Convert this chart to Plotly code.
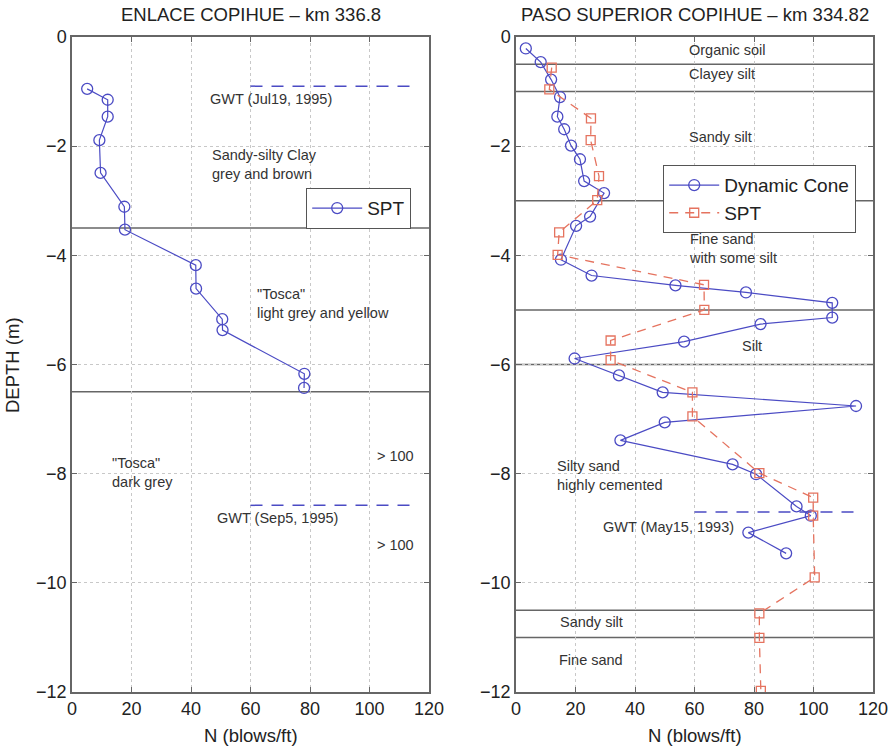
import plotly.graph_objects as go

# ---------------- data ----------------
# Left panel: ENLACE COPIHUE - SPT
left_spt_n = [5.1, 12.0, 12.0, 9.2, 9.6, 17.6, 17.8, 41.6, 41.7, 50.5, 50.6, 78.1, 78.0]
left_spt_depth = [-0.95, -1.15, -1.46, -1.89, -2.49, -3.11, -3.53, -4.18, -4.61, -5.17, -5.37, -6.17, -6.43]
left_layer_bounds = [-3.5, -6.5]
left_gwt_depths = [-0.9, -8.58]
gwt_x_range = [60, 116]

# Right panel: PASO SUPERIOR COPIHUE
cone_n = [3.3, 8.3, 11.8, 14.8, 13.9, 16.2, 18.5, 21.5, 22.9, 29.6, 24.9, 20.2, 15.1, 25.4,
          53.6, 77.3, 106.3, 106.3, 82.2, 56.5, 19.7, 34.6, 49.3, 114.3, 50.0, 35.1, 72.8,
          80.7, 94.3, 99.1, 78.1, 90.8]
cone_depth = [-0.21, -0.46, -0.78, -1.10, -1.46, -1.69, -1.99, -2.24, -2.64, -2.86, -3.29, -3.46,
              -4.08, -4.37, -4.55, -4.68, -4.87, -5.14, -5.26, -5.58, -5.89, -6.20, -6.51, -6.76,
              -7.06, -7.39, -7.83, -8.01, -8.60, -8.77, -9.08, -9.46]
right_spt_n = [12.0, 11.2, 25.2, 25.1, 27.9, 27.3, 14.5, 14.0, 63.2, 63.3, 31.8, 31.8, 59.3, 59.3,
               81.8, 99.9, 99.9, 100.4, 81.8, 81.8, 82.3]
right_spt_depth = [-0.56, -0.96, -1.49, -1.89, -2.55, -2.99, -3.58, -3.99, -4.54, -5.00, -5.56,
                   -5.92, -6.51, -6.95, -7.99, -8.44, -8.77, -9.90, -10.56, -11.01, -11.98]
right_layer_bounds = [-0.5, -1.0, -3.0, -5.0, -6.0, -10.5, -11.0]
right_gwt_depths = [-8.7]

# annotation labels: (text, x, y, anchor)
left_labels = [
    ("GWT (Jul19, 1995)", 67, -1.14, "center"),
    ("Sandy-silty Clay<br>grey and brown", 46.5, -2.33, "left"),
    ("\"Tosca\"<br>light grey and yellow", 61.5, -4.89, "left"),
    ("\"Tosca\"<br>dark grey", 12.8, -7.97, "left"),
    ("&gt; 100", 108.8, -7.67, "center"),
    ("GWT (Sep5, 1995)", 69, -8.81, "center"),
    ("&gt; 100", 108.8, -9.3, "center"),
]
right_labels = [
    ("Organic soil", 57.6, -0.24, "left"),
    ("Clayey silt", 57.6, -0.68, "left"),
    ("Sandy silt", 57.6, -1.83, "left"),
    ("Fine sand<br>with some silt", 57.6, -3.88, "left"),
    ("Silt", 79.2, -5.67, "center"),
    ("Silty sand<br>highly cemented", 13.1, -8.04, "left"),
    ("GWT (May15, 1993)", 51.2, -8.97, "center"),
    ("Sandy silt", 14.2, -10.71, "left"),
    ("Fine sand", 13.7, -11.42, "left"),
]
titles = ["ENLACE COPIHUE \u2013 km 336.8", "PASO SUPERIOR COPIHUE \u2013 km 334.82"]
x_ticks = [0, 20, 40, 60, 80, 100, 120]
y_ticks = [0, -2, -4, -6, -8, -10, -12]

# ---------------- style ----------------
BLUE = "#4b4bc4"
RED = "#e5735f"
GREY = "#666666"
FONT = "Liberation Sans, Arial, sans-serif"

fig = go.Figure()

fig.add_trace(go.Scatter(
    x=left_spt_n, y=left_spt_depth, mode="lines+markers", name="SPT",
    line=dict(color=BLUE, width=1.2),
    marker=dict(symbol="circle-open", size=11, color=BLUE, line=dict(width=1.3)),
    xaxis="x", yaxis="y", legend="legend"))

fig.add_trace(go.Scatter(
    x=cone_n, y=cone_depth, mode="lines+markers", name="Dynamic Cone",
    line=dict(color=BLUE, width=1.2),
    marker=dict(symbol="circle-open", size=11, color=BLUE, line=dict(width=1.3)),
    xaxis="x2", yaxis="y2", legend="legend2"))

fig.add_trace(go.Scatter(
    x=right_spt_n, y=right_spt_depth, mode="lines+markers", name="SPT",
    line=dict(color=RED, width=1.3, dash="9px,7px"),
    marker=dict(symbol="square-open", size=9, color=RED, line=dict(width=1.3)),
    xaxis="x2", yaxis="y2", legend="legend2"))

shapes = []
for xr, yr, bounds, gwts in [("x", "y", left_layer_bounds, left_gwt_depths),
                             ("x2", "y2", right_layer_bounds, right_gwt_depths)]:
    for b in bounds:
        shapes.append(dict(type="line", xref=f"{xr} domain", yref=yr, x0=0, x1=1, y0=b, y1=b,
                           line=dict(color=GREY, width=1.5), layer="below"))
    for g in gwts:
        shapes.append(dict(type="line", xref=xr, yref=yr, x0=gwt_x_range[0], x1=gwt_x_range[1],
                           y0=g, y1=g, line=dict(color=BLUE, width=1.5, dash="12px,9px")))

annotations = []
for labels, xr, yr in [(left_labels, "x", "y"), (right_labels, "x2", "y2")]:
    for t, x, y, anc in labels:
        annotations.append(dict(text=t, x=x, y=y, xref=xr, yref=yr, xanchor=anc,
                                yanchor="middle", showarrow=False, align="left",
                                font=dict(size=14.5, color="#333333", family=FONT)))

x_domains = [[72 / 892, 429 / 892], [516 / 892, 873 / 892]]
y_domain = [1 - 692 / 748, 1 - 37 / 748]

for i, t in enumerate(titles):
    annotations.append(dict(text=t, x=sum(x_domains[i]) / 2, y=1 - 15 / 748, xref="paper",
                            yref="paper", xanchor="center", yanchor="middle", showarrow=False,
                            font=dict(size=18.5, color="#222222", family=FONT)))
for i in range(2):
    annotations.append(dict(text="N (blows/ft)", x=sum(x_domains[i]) / 2, y=1 - 735 / 748,
                            xref="paper", yref="paper", xanchor="center", yanchor="middle",
                            showarrow=False, font=dict(size=18.5, color="#222222", family=FONT)))
annotations.append(dict(text="DEPTH (m)", x=12 / 892, y=1 - 365 / 748, xref="paper", yref="paper",
                        xanchor="center", yanchor="middle", textangle=-90, showarrow=False,
                        font=dict(size=18.5, color="#222222", family=FONT)))

axis_common = dict(showline=True, linecolor=GREY, linewidth=1.5, mirror="ticks",
                   ticks="inside", ticklen=5, tickcolor=GREY, showgrid=True,
                   gridcolor="#c8c8c8", griddash="dot", gridwidth=1, zeroline=False,
                   automargin=False,
                   tickfont=dict(size=18, color="#222222", family=FONT))

fig.update_layout(
    width=892, height=748,
    margin=dict(l=0, r=0, t=0, b=0),
    paper_bgcolor="white", plot_bgcolor="white",
    font=dict(family=FONT),
    xaxis=dict(domain=x_domains[0], range=[0, 120], tickvals=x_ticks, anchor="y", **axis_common),
    yaxis=dict(domain=y_domain, range=[-12, 0], tickvals=y_ticks, anchor="x", **axis_common),
    xaxis2=dict(domain=x_domains[1], range=[0, 120], tickvals=x_ticks, anchor="y2", **axis_common),
    yaxis2=dict(domain=y_domain, range=[-12, 0], tickvals=y_ticks, anchor="x2", **axis_common),
    shapes=shapes, annotations=annotations,
    legend=dict(x=306 / 892, y=1 - 188 / 748, xanchor="left", yanchor="top",
                bgcolor="white", bordercolor="#555555", borderwidth=1.2, itemwidth=50,
                font=dict(size=19, color="#222222", family=FONT)),
    legend2=dict(x=663 / 892, y=1 - 165 / 748, xanchor="left", yanchor="top",
                 bgcolor="white", bordercolor="#555555", borderwidth=1.2, itemwidth=50,
                 font=dict(size=19, color="#222222", family=FONT), tracegroupgap=0),
    showlegend=True,
)

fig.write_html("out.html")
